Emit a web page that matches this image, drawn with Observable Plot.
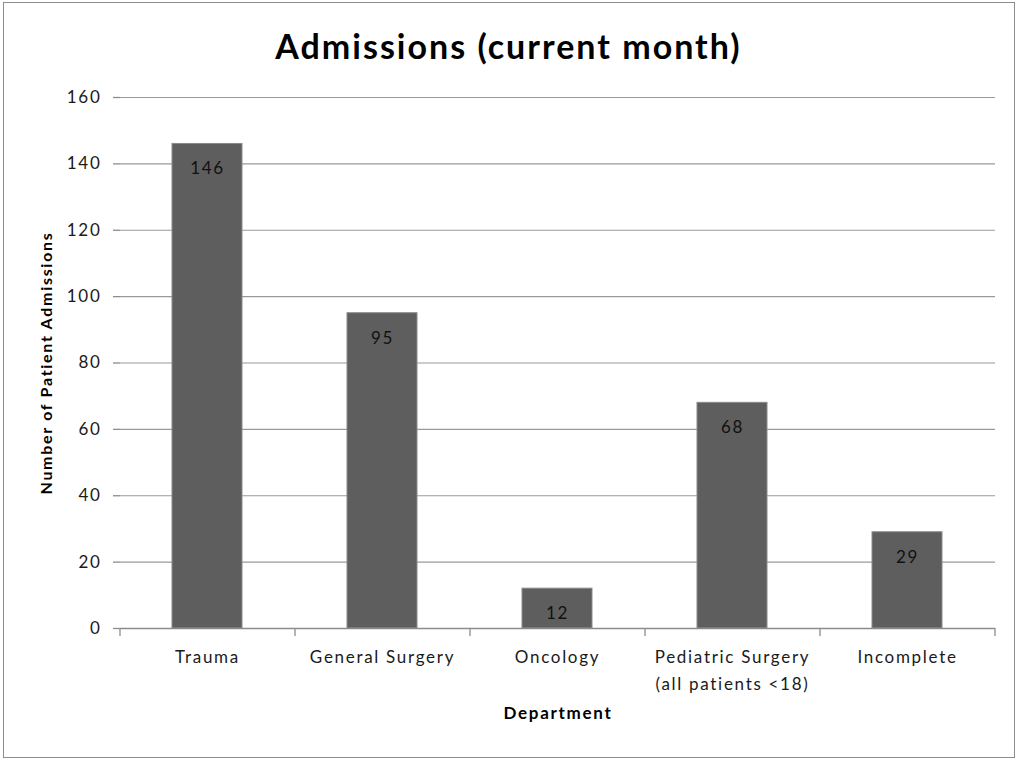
<!DOCTYPE html>
<html>
<head>
<meta charset="utf-8">
<script src="https://cdn.jsdelivr.net/npm/d3@7"></script>
<script src="https://cdn.jsdelivr.net/npm/@observablehq/plot@0.6"></script>
<style>
  html, body { margin: 0; padding: 0; background: #fff; }
  #wrap { position: relative; width: 1017px; height: 761px; overflow: hidden; font-family: Lato, "Open Sans", sans-serif; }
  #frame { position: absolute; left: 3px; top: 2px; width: 1012px; height: 756px; border: 1.5px solid #8c8c8c; box-sizing: border-box; pointer-events: none; }
  #title { position: absolute; left: 0; width: 1017px; top: 26px; text-align: center; font-size: 34px; font-weight: bold; color: #000; line-height: 40px; letter-spacing: 2px; }
  #chart { position: absolute; left: 0; top: 0; }
  #chart svg text { letter-spacing: 1.7px; }
  #chart g[aria-label="axis-title"] text { letter-spacing: 2.8px; }
</style>
</head>
<body>
<div id="wrap">
  <div id="chart"></div>
  <div id="title">Admissions (current month)</div>
  <div id="frame"></div>
</div>
<script>
const categories = ["Trauma", "General Surgery", "Oncology", "Pediatric Surgery", "Incomplete"];
const categoryLabels = ["Trauma", "General Surgery", "Oncology", "Pediatric Surgery\n(all patients <18)", "Incomplete"];
const admissions = [146, 95, 12, 68, 29];
const yTicks = [0, 20, 40, 60, 80, 100, 120, 140, 160];
const yLabel = "Number of Patient Admissions";
const xLabel = "Department";

const data = categories.map((c, i) => ({category: c, label: categoryLabels[i], value: admissions[i]}));
const labelOf = new Map(data.map(d => [d.category, d.label]));

// band-boundary tick marks on the x axis (Excel style), derived from the frame layout
function boundaryTicks(index, scales, values, dimensions) {
  const {width, marginLeft, marginRight, height, marginBottom} = dimensions;
  const n = categories.length;
  const step = (width - marginLeft - marginRight) / n;
  const y0 = height - marginBottom;
  const g = d3.create("svg:g").attr("stroke", "#8c8c8c").attr("stroke-width", 1.3);
  for (let i = 0; i <= n; i++) {
    const x = marginLeft + i * step;
    g.append("line").attr("x1", x).attr("x2", x).attr("y1", y0).attr("y2", y0 + 8);
  }
  return g.node();
}

const chart = Plot.plot({
  width: 1017,
  height: 761,
  marginTop: 97,
  marginBottom: 133,
  marginLeft: 120,
  marginRight: 22,
  style: {fontFamily: "Lato, 'Open Sans', sans-serif", fontSize: "17px", color: "#1a1a1a", background: "transparent"},
  x: {domain: categories, paddingInner: 0.6, paddingOuter: 0.3},
  y: {domain: [0, 160]},
  marks: [
    Plot.gridY(yTicks, {stroke: "#9a9a9a", strokeOpacity: 1, strokeWidth: 1.2}),
    Plot.barY(data, {x: "category", y: "value", fill: "#5e5e5e", stroke: "#8a8a8a", strokeWidth: 1}),
    Plot.ruleY([0], {stroke: "#8c8c8c", strokeWidth: 1.5}),
    Plot.ruleX([0], {frameAnchor: "left", stroke: "#8c8c8c", strokeWidth: 1.3}),
    Plot.axisY({ticks: yTicks, tickSize: 7, tickPadding: 12, stroke: "#8c8c8c", strokeWidth: 1.3, label: null, fontSize: 17, fill: "#1a1a1a"}),
    Plot.axisX({tickSize: 0, tickPadding: 15, tickFormat: d => labelOf.get(d), label: null, lineHeight: 1.6, fontSize: 17, fill: "#1a1a1a"}),
    boundaryTicks,
    Plot.text(data, {x: "category", y: "value", text: d => String(d.value), dy: 25, fontSize: 17, fill: "#111"}),
    Plot.text([yLabel], {ariaLabel: "axis-title", frameAnchor: "left", textAnchor: "middle", rotate: -90, dx: -74, fontWeight: "bold", fontSize: 16, fill: "#000"}),
    Plot.text([xLabel], {ariaLabel: "axis-title", frameAnchor: "bottom", dy: 90, fontWeight: "bold", fontSize: 17, fill: "#000"})
  ]
});
document.getElementById("chart").appendChild(chart);
</script>
</body>
</html>
